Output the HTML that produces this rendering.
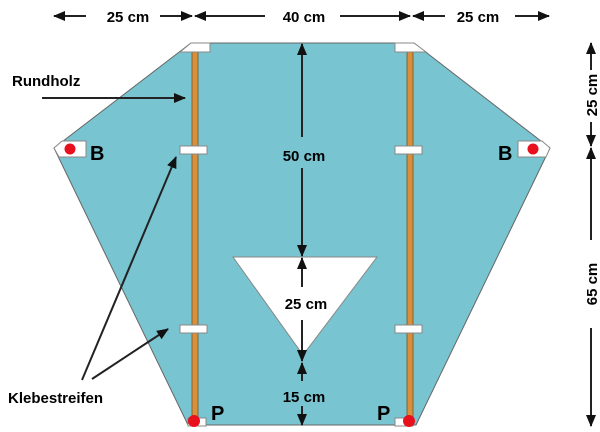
<!DOCTYPE html>
<html><head><meta charset="utf-8"><style>
html,body{margin:0;padding:0;background:#fff;}
svg{display:block;}
text{font-family:"Liberation Sans",Arial,sans-serif;font-weight:bold;fill:#000;}
</style></head><body>
<svg width="600" height="432" viewBox="0 0 600 432" xmlns="http://www.w3.org/2000/svg">
<defs>
<marker id="a" viewBox="0 0 12 10" refX="11" refY="5" markerWidth="12" markerHeight="10" orient="auto-start-reverse" markerUnits="userSpaceOnUse"><path d="M0,0L12,5L0,10z" fill="#111"/></marker>
</defs>
<style>.ar{stroke:#222;stroke-width:2;fill:none}</style>
<polygon points="191,43 414,43 550,148 416,425 188,425 54,148" fill="#78c4d0" stroke="#666" stroke-width="1"/>
<polygon points="233,257 377,257 303,355" fill="#fff" stroke="#888" stroke-width="1"/>
<rect x="192" y="48" width="6" height="377" fill="#d8903c" stroke="#7a5020" stroke-width="0.8"/>
<rect x="407" y="48" width="6" height="377" fill="#d8903c" stroke="#7a5020" stroke-width="0.8"/>
<polygon points="180,52 191,43 210,43 210,52" fill="#fff" stroke="#888"/>
<polygon points="395,43 414,43 426,52 395,52" fill="#fff" stroke="#888"/>
<rect x="180" y="146" width="27" height="8" fill="#fff" stroke="#888"/>
<rect x="395" y="146" width="27" height="8" fill="#fff" stroke="#888"/>
<rect x="180" y="325" width="27" height="8" fill="#fff" stroke="#888"/>
<rect x="395" y="325" width="27" height="8" fill="#fff" stroke="#888"/>
<rect x="188" y="418" width="18" height="8" fill="#fff" stroke="#888"/>
<rect x="395" y="418" width="18" height="8" fill="#fff" stroke="#888"/>
<polygon points="54,148 62,141 86,141 86,157 59,157" fill="#fff" stroke="#888"/>
<polygon points="518,141 542,141 550,148 546,157 518,157" fill="#fff" stroke="#888"/>
<circle cx="70" cy="149" r="5.5" fill="#e8101c"/>
<circle cx="533" cy="149" r="5.5" fill="#e8101c"/>
<circle cx="194" cy="421" r="6" fill="#e8101c"/>
<circle cx="409" cy="421" r="6" fill="#e8101c"/>
<text x="90" y="160" font-size="20">B</text>
<text x="498" y="160" font-size="20">B</text>
<text x="211" y="420" font-size="20">P</text>
<text x="377" y="420" font-size="20">P</text>
<line class="ar" x1="86" y1="16" x2="54" y2="16" marker-end="url(#a)"/>
<line class="ar" x1="160" y1="16" x2="192" y2="16" marker-end="url(#a)"/>
<text x="128" y="22" font-size="15" text-anchor="middle">25 cm</text>
<line class="ar" x1="265" y1="16" x2="195" y2="16" marker-end="url(#a)"/>
<line class="ar" x1="340" y1="16" x2="410" y2="16" marker-end="url(#a)"/>
<text x="304" y="22" font-size="15" text-anchor="middle">40 cm</text>
<line class="ar" x1="445" y1="16" x2="413" y2="16" marker-end="url(#a)"/>
<line class="ar" x1="515" y1="16" x2="549" y2="16" marker-end="url(#a)"/>
<text x="478" y="22" font-size="15" text-anchor="middle">25 cm</text>
<line class="ar" x1="302" y1="137" x2="302" y2="44" marker-end="url(#a)"/>
<text x="304" y="161" font-size="15" text-anchor="middle">50 cm</text>
<line class="ar" x1="302" y1="168" x2="302" y2="256" marker-end="url(#a)"/>
<line class="ar" x1="302" y1="287" x2="302" y2="258" marker-end="url(#a)"/>
<text x="306" y="309" font-size="15" text-anchor="middle">25 cm</text>
<line class="ar" x1="302" y1="320" x2="302" y2="361" marker-end="url(#a)"/>
<line class="ar" x1="302" y1="381" x2="302" y2="363" marker-end="url(#a)"/>
<text x="304" y="402" font-size="15" text-anchor="middle">15 cm</text>
<line class="ar" x1="302" y1="406" x2="302" y2="425" marker-end="url(#a)"/>
<line class="ar" x1="591" y1="70" x2="591" y2="43" marker-end="url(#a)"/>
<text transform="translate(597,95) rotate(-90)" font-size="15" text-anchor="middle">25 cm</text>
<line class="ar" x1="591" y1="122" x2="591" y2="146" marker-end="url(#a)"/>
<line class="ar" x1="591" y1="240" x2="591" y2="148" marker-end="url(#a)"/>
<text transform="translate(597,284) rotate(-90)" font-size="15" text-anchor="middle">65 cm</text>
<line class="ar" x1="591" y1="328" x2="591" y2="426" marker-end="url(#a)"/>
<text x="12" y="86" font-size="15">Rundholz</text>
<line class="ar" x1="42" y1="98" x2="185" y2="98" marker-end="url(#a)"/>
<text x="8" y="403" font-size="15">Klebestreifen</text>
<line class="ar" x1="82" y1="380" x2="176" y2="157" marker-end="url(#a)"/>
<line class="ar" x1="92" y1="379" x2="168" y2="329" marker-end="url(#a)"/>
</svg>
</body></html>
